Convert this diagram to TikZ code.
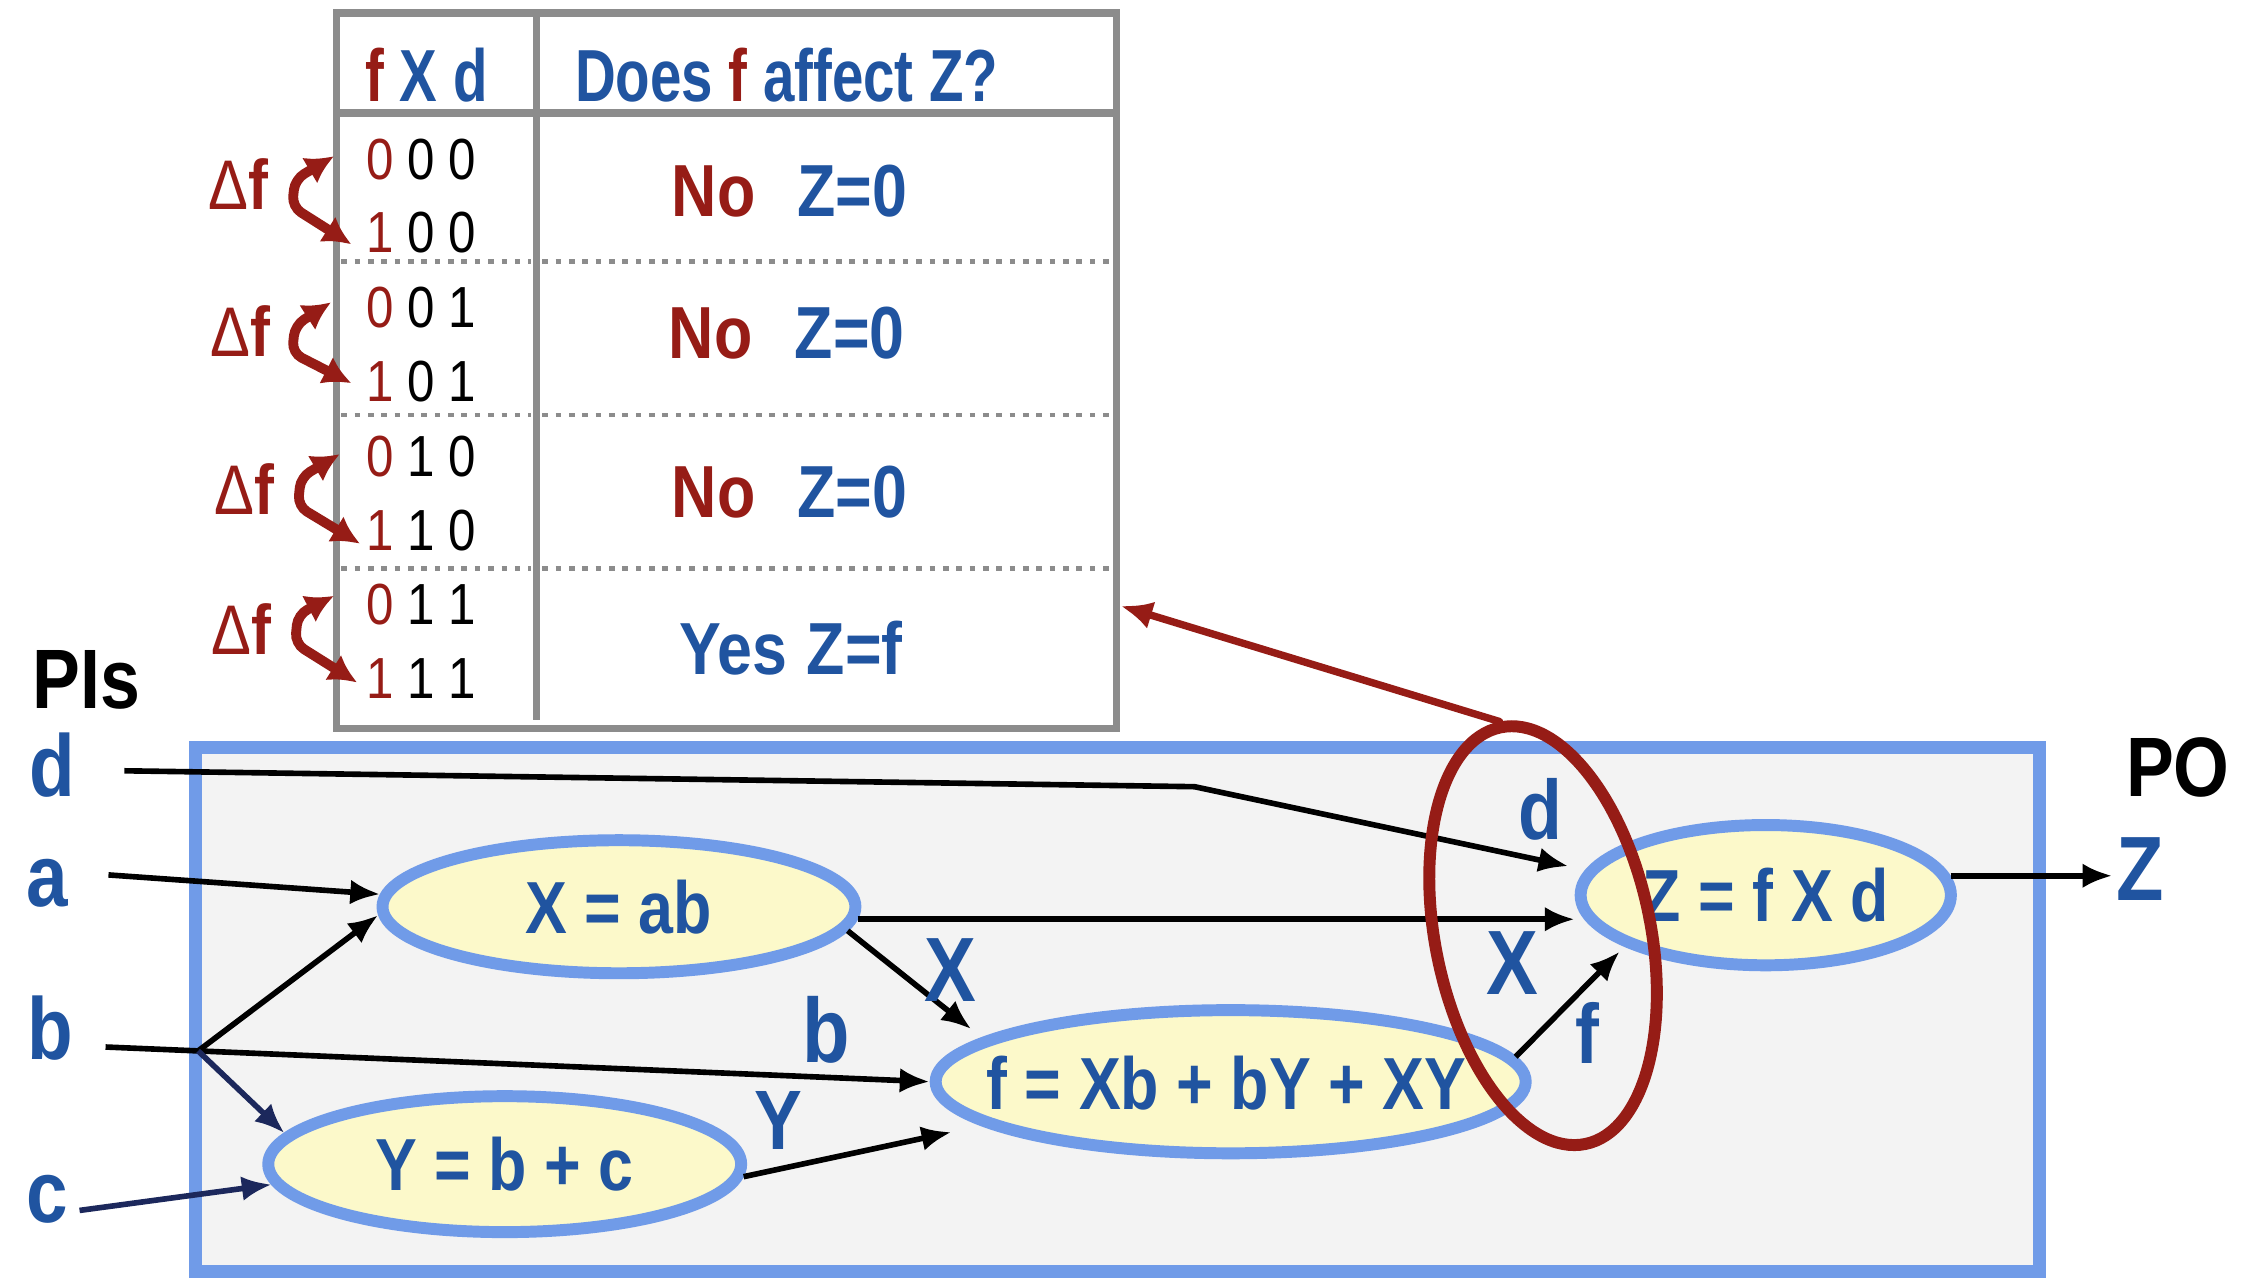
\documentclass[tikz,border=0pt]{standalone}
\usepackage{fontspec}
\usepackage{graphicx}
\setmainfont{Liberation Sans}[FakeStretch=0.85]
\usetikzlibrary{arrows.meta,shapes.geometric,calc}
\definecolor{dred}{RGB}{150,28,22}
\definecolor{tblue}{RGB}{32,84,160}
\definecolor{eblue}{RGB}{112,155,232}
\definecolor{eyel}{RGB}{252,249,202}
\definecolor{boxg}{RGB}{243,243,243}
\definecolor{tgray}{RGB}{140,140,140}
\definecolor{navy}{RGB}{28,40,92}
\newcommand{\fsz}[1]{\fontsize{#1}{#1}\selectfont}
\newcommand{\pxu}{0.01446cm}
\begin{document}
\begin{tikzpicture}[x=0.01446cm, y=-0.01446cm,
  arr/.style={line width=1.6pt, -{Latex[length=8.5pt,width=7pt]}},
  ell/.style={ellipse, draw=eblue, line width=3.4pt, fill=eyel, inner sep=0pt, text=tblue, font=\bfseries\fsz{21}},
  etxt/.style={inner sep=0pt, text=tblue, font=\bfseries\fsz{21}},
  lbl/.style={inner sep=0pt, text=tblue, font=\bfseries\fsz{24}},
  inp/.style={inner sep=0pt, text=tblue, font=\bfseries\fsz{25}},
  blk/.style={inner sep=0pt, text=black, font=\bfseries\fsz{24}},
  dig/.style={inner sep=0pt, text=black, font=\fsz{16.5}},
  ans/.style={inner sep=0pt, text=tblue, font=\bfseries\fsz{21}},
  hdr/.style={inner sep=0pt, text=tblue, font=\bfseries\fsz{21}},
  dlt/.style={inner sep=0pt, text=dred, font=\fsz{20}},
  flip/.style={draw=dred, line width=2.8pt, rounded corners=3pt, {Latex[length=8pt,width=8.5pt]}-{Latex[length=8pt,width=8.5pt]}},
  dotl/.style={draw=tgray, line width=1.3pt, dash pattern=on 1.6pt off 2.2pt},
  redarr/.style={draw=dred, line width=2.1pt, line cap=round, -{Latex[length=9pt,width=8pt]}}]
\useasboundingbox (0,0) rectangle (1560,885);

% ---------- lower box ----------
\draw[draw=eblue, line width=3.7pt, fill=boxg] (135,517) rectangle (1410,879);

% ---------- table ----------
\node[draw=tgray, line width=2pt, fill=white, minimum width={539*\pxu}, minimum height={495*\pxu},
      anchor=north west, inner sep=0pt, outer sep=0pt] (tbl) at (233,9) {};
\draw[tgray, line width=2.2pt] (233,78) -- (772,78);
\draw[tgray, line width=2pt] (371,9) -- (371,498);
\foreach \yy in {181,287,393}{
  \draw[dotl] (236,\yy) -- (367,\yy);
  \draw[dotl] (375,\yy) -- (769,\yy);
}
\node[hdr] (h1) at (295,52) {\scalebox{0.9}[1]{\textcolor{dred}{f} X d}};
\node[hdr] (h2) at (544,52) {\scalebox{0.9}[1]{Does \textcolor{dred}{f} affect Z?}};

\node[dig] (r1a) at (291,110) {\textcolor{dred}{0} 0 0};
\node[dig] (r1b) at (291,161) {\textcolor{dred}{1} 0 0};
\node[dig] (r2a) at (291,213) {\textcolor{dred}{0} 0 1};
\node[dig] (r2b) at (291,264) {\textcolor{dred}{1} 0 1};
\node[dig] (r3a) at (291,316) {\textcolor{dred}{0} 1 0};
\node[dig] (r3b) at (291,367) {\textcolor{dred}{1} 1 0};
\node[dig] (r4a) at (291,418) {\textcolor{dred}{0} 1 1};
\node[dig] (r4b) at (291,469) {\textcolor{dred}{1} 1 1};

\node[ans] (a1) at (546,132) {\textcolor{dred}{No}\hspace{12pt}Z=0};
\node[ans] (a2) at (544,230) {\textcolor{dred}{No}\hspace{12pt}Z=0};
\node[ans] (a3) at (546,340) {\textcolor{dred}{No}\hspace{12pt}Z=0};
\node[ans] (a4) at (547,448) {Yes\hspace{5.5pt}Z=f};

\node[dlt] (d1) at (165,127) {Δ\textbf{f}};
\node[dlt] (d2) at (166,229) {Δ\textbf{f}};
\node[dlt] (d3) at (169,338) {Δ\textbf{f}};
\node[dlt] (d4) at (167,435) {Δ\textbf{f}};

\coordinate (g1a) at (231,108); \coordinate (g1b) at (204,124); \coordinate (g1c) at (202,143); \coordinate (g1d) at (243,169);
\coordinate (g2a) at (229,209); \coordinate (g2b) at (204,225); \coordinate (g2c) at (202,244); \coordinate (g2d) at (243,265);
\coordinate (g3a) at (235,314); \coordinate (g3b) at (208,330); \coordinate (g3c) at (206,350); \coordinate (g3d) at (249,376);
\coordinate (g4a) at (231,412); \coordinate (g4b) at (206,425); \coordinate (g4c) at (204,445); \coordinate (g4d) at (247,472);
\foreach \g in {1,2,3,4}{
  \draw[flip] (g\g a) -- (g\g b) -- (g\g c) -- (g\g d);
}

% ---------- labels ----------
\node[blk] (pis) at (60,470) {PIs};
\node[blk] (po) at (1506,531) {PO};
\node[inp] (inD) at (36,529) {d};
\node[inp] (inA) at (33,611) {a};
\node[inp] (inB) at (35,711) {b};
\node[inp] (inC) at (33,829) {c};

% ---------- ellipses ----------
\node[ell, minimum width={327*\pxu}, minimum height={92*\pxu}] (nX) at (428,627) {X = ab};
\node[ell, minimum width={327*\pxu}, minimum height={94*\pxu}] (nY) at (349,805) {Y = b + c};
\node[ell, minimum width={408*\pxu}, minimum height={99*\pxu}] (nf) at (851,748) {};
\node[etxt] (tf) at (848,749) {f = Xb + bY + XY};
\node[ell, minimum width={256*\pxu}, minimum height={97*\pxu}] (nZ) at (1221,619) {Z = f X d};

\node[inner sep=0pt, text=tblue, font=\bfseries\fsz{26}] (outZ) at (1480,601) {Z};

% ---------- connectors ----------
\coordinate (dstart) at (86,533);
\coordinate (dbend) at (826,544);
\coordinate (astart) at (75,605);
\coordinate (bstart) at (73,724);
\coordinate (bsplit) at (137,726.7);
\coordinate (cstart) at (55,837);

\draw[arr, shorten >=5pt] (dstart) -- (dbend) -- (nZ.172);
\draw[arr] (astart) -- (nX.177);
\draw[arr] (bstart) -- (nf.180);
\draw[arr] (bsplit) -- (nX.182);
\draw[arr, draw=navy] (bsplit) -- (nY.172);
\draw[arr, draw=navy] (cstart) -- (nY.185);
\draw[arr] (nX.-3) -- (nX.-3 -| nZ.west);
\draw[arr, shorten >=4pt] (nX.-6) -- (nf.170);
\draw[arr, shorten >=9pt] (nY.-3) -- (nf.190);
\draw[arr, shorten >=2pt] (nf.5) -- (nZ.200);
\draw[arr, shorten >=1pt] (nZ.6) -- (nZ.6 -| outZ.west);

\node[lbl, font=\bfseries\fsz{26}] (lX1) at (657,671) {X};
\node[lbl, font=\bfseries\fsz{26}] (lb) at (571,712) {b};
\node[lbl] (lY) at (538,775) {Y};
\node[lbl] (ld) at (1065,560) {d};
\node[lbl, font=\bfseries\fsz{26}] (lX2) at (1046,666) {X};
\node[lbl] (lf) at (1098,714) {f};

% ---------- red ellipse and arrow ----------
\node[ellipse, draw=dred, line width=3.4pt, minimum width={149*\pxu}, minimum height={294*\pxu},
      inner sep=0pt, rotate=11.5] (rE) at (1067,647) {};
\coordinate (tblR) at (775,419);
\draw[redarr] (rE.north) -- (tblR);
\end{tikzpicture}
\end{document}
